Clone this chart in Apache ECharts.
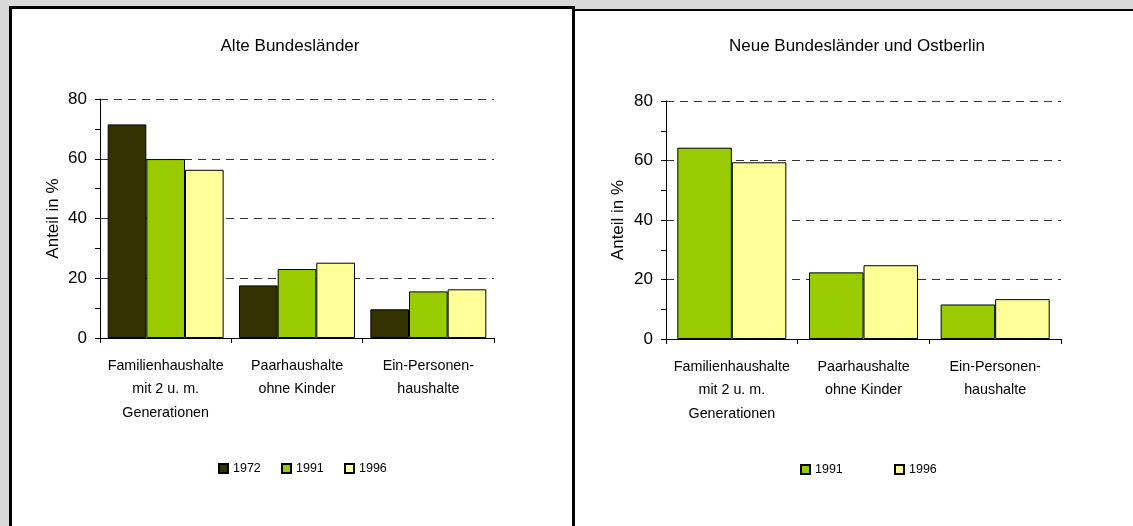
<!DOCTYPE html>
<html>
<head>
<meta charset="utf-8">
<script src="https://cdn.jsdelivr.net/npm/echarts@6/dist/echarts.min.js"></script>
<style>
html,body{margin:0;padding:0;background:#d9d9d9;}
#c{width:1133px;height:526px;}
</style>
</head>
<body>
<div id="c"></div>
<script>
// ---- data ----
var categories = ['Familienhaushalte\nmit 2 u. m.\nGenerationen', 'Paarhaushalte\nohne Kinder', 'Ein-Personen-\nhaushalte'];
var titleLeft = 'Alte Bundesländer';
var titleRight = 'Neue Bundesländer und Ostberlin';
var yName = 'Anteil in %';
var yMin = 0, yMax = 80, yStep = 20;
var alt1972 = [71.5, 17.6, 9.6];
var alt1991 = [59.9, 23.1, 15.6];
var alt1996 = [56.3, 25.2, 16.3];
var neu1991 = [64.3, 22.4, 11.6];
var neu1996 = [59.4, 24.8, 13.4];
var yearsLeft = ['1972', '1991', '1996'];
var yearsRight = ['1991', '1996'];

// ---- styles ----
var FONT = "'Liberation Sans',Arial,sans-serif";
var colors = {'1972': '#333300', '1991': '#99cc00', '1996': '#ffff99'};

function xAxis(gi) {
  return {
    type: 'category', gridIndex: gi, data: categories,
    axisLine: {lineStyle: {color: '#000', width: 1}},
    axisTick: {show: true, length: 5, lineStyle: {color: '#000'}},
    axisLabel: {interval: 0, color: '#000', fontFamily: FONT, fontSize: 14.3, lineHeight: 23.6, margin: 16}
  };
}
function yAxis(gi, gap) {
  return {
    type: 'value', gridIndex: gi, min: yMin, max: yMax, interval: yStep,
    name: yName, nameLocation: 'middle', nameGap: gap, nameRotate: 90,
    nameTextStyle: {color: '#000', fontFamily: FONT, fontSize: 17},
    axisLine: {show: true, lineStyle: {color: '#000', width: 1}},
    axisTick: {show: true, length: 5, lineStyle: {color: '#000'}},
    minorTick: {show: true, splitNumber: 2, length: 5, lineStyle: {color: '#000'}},
    axisLabel: {color: '#000', fontFamily: FONT, fontSize: 17, margin: 13},
    splitLine: {show: true, lineStyle: {color: '#333', width: 1, type: [8, 6]}}
  };
}
function bar(name, data, gi, gap) {
  return {
    type: 'bar', name: name, data: data, xAxisIndex: gi, yAxisIndex: gi,
    barGap: '0%', barCategoryGap: gap,
    itemStyle: {color: colors[name], borderColor: '#000', borderWidth: 1},
    emphasis: {disabled: true}
  };
}
function legend(data, left, top, gap) {
  return {data: data, left: left, top: top, padding: 0, itemWidth: 9, itemHeight: 9, itemGap: gap,
    icon: 'rect', selectedMode: false,
    textStyle: {color: '#000', fontFamily: FONT, fontSize: 12.5}};
}

var chart = echarts.init(document.getElementById('c'), null, {renderer: 'canvas'});
chart.setOption({
  backgroundColor: '#d9d9d9',
  animation: false,
  graphic: {elements: [
    {type: 'rect', z: -100, shape: {x: 9, y: 6, width: 566, height: 530}, style: {fill: '#fff'}},
    {type: 'rect', z: -100, shape: {x: 575, y: 9, width: 558, height: 530}, style: {fill: '#fff'}},
    {type: 'rect', z: -99, shape: {x: 9, y: 6, width: 566, height: 3}, style: {fill: '#000'}},
    {type: 'rect', z: -99, shape: {x: 9, y: 6, width: 3, height: 530}, style: {fill: '#000'}},
    {type: 'rect', z: -99, shape: {x: 572, y: 6, width: 3, height: 530}, style: {fill: '#000'}},
    {type: 'rect', z: -99, shape: {x: 575, y: 9, width: 558, height: 2}, style: {fill: '#000'}}
  ]},
  title: [
    {text: titleLeft, left: 290, top: 38, textAlign: 'center', padding: 0,
     textStyle: {color: '#000', fontFamily: FONT, fontSize: 17, fontWeight: 'normal'}},
    {text: titleRight, left: 857, top: 38, textAlign: 'center', padding: 0,
     textStyle: {color: '#000', fontFamily: FONT, fontSize: 17, fontWeight: 'normal'}}
  ],
  legend: [
    legend(yearsLeft, 218, 462, 20.2),
    legend(yearsRight, 800, 463, 51.2)
  ],
  grid: [
    {left: 100, top: 99, width: 394, height: 239},
    {left: 666, top: 101, width: 395, height: 238}
  ],
  xAxis: [xAxis(0), xAxis(1)],
  yAxis: [yAxis(0, 38), yAxis(1, 39)],
  series: [
    bar('1972', alt1972, 0, '11.7%'),
    bar('1991', alt1991, 0, '11.7%'),
    bar('1996', alt1996, 0, '11.7%'),
    bar('1991', neu1991, 1, '17.2%'),
    bar('1996', neu1996, 1, '17.2%')
  ]
});
</script>
</body>
</html>
